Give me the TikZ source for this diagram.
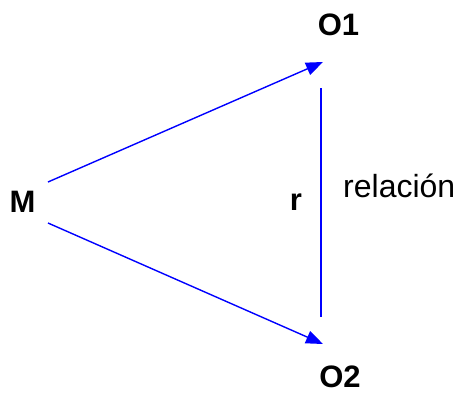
\documentclass[tikz,border=0pt]{standalone}
\usepackage{fontspec}
\setmainfont{Liberation Sans}
\usetikzlibrary{arrows.meta}
\definecolor{lineblue}{RGB}{0,0,255}
\tikzset{
  lbl/.style={inner sep=0pt, anchor=base, font=\fontsize{31}{36}\selectfont\bfseries},
  plainlbl/.style={inner sep=0pt, anchor=base west, font=\fontsize{32}{37}\selectfont},
  conn/.style={draw=lineblue, line width=1.4pt},
  arr/.style={conn, -{Triangle[length=17pt,width=13pt]}}
}
\begin{document}
\begin{tikzpicture}[x=1pt,y=-1pt]
\useasboundingbox (0,0) rectangle (456,392);
\node[lbl] (M) at (22.5,212) {M};
\node[lbl] (O1) at (338.5,35) {O1};
\node[lbl] (O2) at (340,387) {O2};
\node[lbl] (r) at (296,210) {r};
\node[plainlbl] (rel) at (343,197) {relación};
\coordinate (m1) at (48,182);
\coordinate (m2) at (48,223);
\coordinate (t1) at (323,62);
\coordinate (t2) at (323,344);
\coordinate (v1) at (321,88);
\coordinate (v2) at (321,317);
\draw[arr] (m1) -- (t1);
\draw[arr] (m2) -- (t2);
\draw[conn] (v1) -- (v2);
\end{tikzpicture}
\end{document}
